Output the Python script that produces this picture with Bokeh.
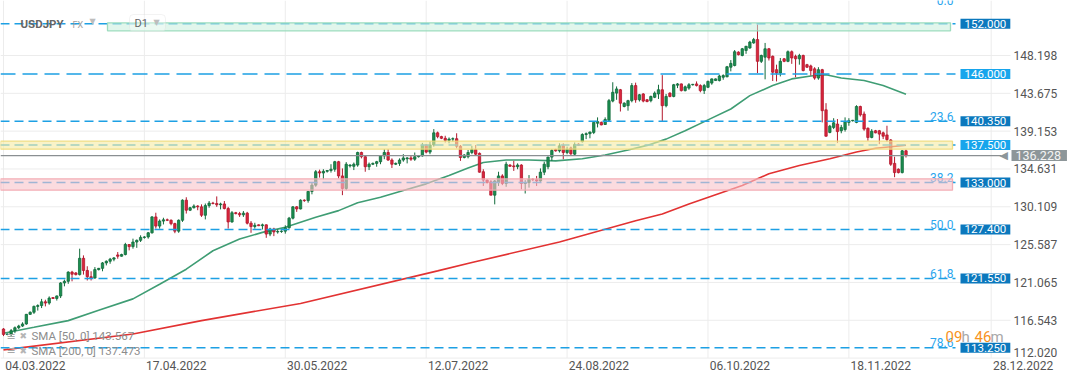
import numpy as np
from bokeh.plotting import figure
from bokeh.models import Range1d, Grid, Label, BoxAnnotation, ColumnDataSource
from bokeh.core.properties import value
from bokeh.embed import file_html
from bokeh.resources import INLINE

# ---------------- data (USDJPY D1, one bar per trading session incl. Sunday) ----------------
open_ = [
 115.5,
 114.85, 114.9, 115.3, 115.65, 115.85, 116.1,
 117.25, 117.5, 118.2, 118.3, 118.75, 118.6,
 119.25, 119.15, 119.45, 121.0, 121.2, 122.3,
 122.2, 122.0, 123.95, 122.5, 121.75, 121.6,
 122.6, 122.75, 123.4, 123.6, 123.85, 124.35,
 124.2, 124.4, 125.6, 125.35, 125.9, 126.1,
 126.45, 126.5, 127.0, 128.9, 127.8, 128.4,
 128.55, 128.5, 128.1, 127.2, 128.5, 130.9,
 129.7, 130.0, 130.2, 130.1, 129.1, 130.25,
 130.55, 130.5, 130.35, 130.45, 129.9, 128.3,
 129.4, 129.3, 129.15, 129.35, 128.15, 127.75,
 127.95, 127.85, 127.95, 126.85, 127.45, 127.1,
 127.15, 127.2, 127.6, 128.75, 130.1, 129.85,
 130.9, 130.85, 131.95, 132.7, 134.3, 134.15,
 134.35, 134.45, 134.6, 135.5, 133.8, 132.3,
 135.0, 134.95, 135.1, 136.6, 136.1, 134.9,
 135.2, 135.3, 135.5, 136.2, 136.6, 135.7,
 135.2, 135.3, 135.7, 135.85, 135.95, 135.8,
 136.1, 136.2, 137.5, 136.65, 137.5, 138.95,
 138.5, 138.3, 138.05, 138.2, 138.25, 137.35,
 136.0, 136.1, 136.6, 136.95, 136.5, 134.3,
 133.3, 133.1, 131.5, 133.0, 133.8, 132.9,
 135.1, 135.0, 134.9, 135.1, 132.9, 133.0,
 133.4, 133.35, 133.2, 134.25, 134.9, 136.05,
 136.95, 136.8, 137.4, 136.6, 137.15, 136.4,
 137.6, 137.9, 138.75, 138.85, 139.0, 140.1,
 140.2, 139.95, 140.45, 142.75, 143.7, 144.1,
 142.1, 142.2, 142.8, 144.6, 142.9, 143.6,
 142.9, 142.8, 143.2, 143.6, 144.1, 142.2,
 143.7, 143.3, 144.65, 144.8, 144.0, 144.3,
 144.7, 144.8, 144.6, 144.0, 144.4, 144.9,
 145.2, 145.2, 145.6, 145.65, 146.8, 147.0,
 148.6, 148.2, 148.8, 149.1, 149.7, 150.1,
 147.5, 148.0, 149.0, 148.1, 146.5, 146.1,
 147.8, 147.5, 148.65, 148.1, 147.8, 148.2,
 147.1, 146.95, 146.6, 145.5, 146.5, 141.7,
 139.0, 139.6, 140.0, 139.2, 139.35, 140.2,
 140.4, 140.2, 142.1, 141.2, 139.5, 138.4,
 139.2, 139.2, 138.95, 138.7, 138.1, 135.3,
 134.6, 134.2, 136.8,
]
high = [
 115.6,
 114.95, 115.5, 115.8, 116.0, 116.3, 117.3,
 117.6, 118.3, 118.45, 119.1, 119.0, 119.4,
 119.3, 119.5, 121.1, 121.4, 122.4, 122.45,
 122.3, 125.1, 124.3, 123.0, 122.4, 122.9,
 122.8, 123.5, 123.7, 124.0, 124.1, 124.7,
 124.5, 125.8, 125.65, 126.3, 126.2, 126.7,
 126.6, 127.1, 129.0, 129.4, 128.6, 128.8,
 128.7, 128.6, 128.2, 128.6, 131.0, 131.25,
 130.1, 130.4, 130.3, 130.4, 130.5, 130.8,
 130.7, 131.35, 130.6, 130.8, 130.1, 129.6,
 129.5, 129.5, 129.6, 129.5, 128.4, 128.2,
 128.0, 128.1, 128.0, 127.6, 127.6, 127.4,
 127.3, 127.9, 128.9, 130.2, 130.2, 131.0,
 131.0, 132.0, 133.0, 134.5, 134.55, 134.6,
 134.5, 135.2, 135.6, 135.6, 134.7, 135.45,
 135.2, 135.4, 136.7, 136.7, 136.3, 135.4,
 135.4, 135.6, 136.3, 137.0, 137.0, 135.9,
 135.4, 135.9, 136.4, 136.05, 136.2, 136.6,
 136.3, 137.75, 137.6, 137.9, 139.4, 139.1,
 138.6, 138.6, 138.4, 138.4, 138.9, 137.5,
 136.4, 136.9, 137.4, 137.5, 136.6, 134.6,
 133.4, 133.3, 133.3, 134.3, 134.0, 135.5,
 135.2, 135.6, 135.3, 135.2, 133.3, 133.9,
 133.5, 133.8, 134.7, 135.5, 136.1, 137.0,
 137.05, 137.7, 137.7, 137.3, 137.3, 137.8,
 137.7, 138.9, 139.0, 139.1, 140.2, 140.8,
 140.3, 140.8, 143.0, 145.0, 144.5, 144.2,
 142.6, 142.9, 144.9, 144.95, 143.6, 143.7,
 143.0, 143.4, 143.9, 144.7, 145.85, 143.6,
 143.8, 144.8, 144.9, 144.85, 144.6, 144.9,
 144.8, 145.1, 144.75, 144.8, 145.2, 145.45,
 145.45, 145.9, 145.95, 146.95, 147.65, 148.85,
 148.7, 149.1, 149.35, 149.95, 150.3, 151.9,
 148.3, 149.7, 149.1, 148.2, 147.1, 147.9,
 147.9, 148.8, 148.8, 148.3, 148.4, 148.3,
 147.2, 147.1, 146.8, 146.8, 146.6, 142.5,
 139.9, 140.7, 140.6, 139.9, 140.8, 140.7,
 140.5, 142.25, 142.2, 141.5, 139.6, 139.4,
 139.3, 139.3, 139.1, 139.8, 138.2, 136.1,
 134.7, 136.9, 136.95,
]
low = [
 114.65,
 114.75, 114.65, 115.0, 115.5, 115.75, 116.0,
 117.2, 117.3, 117.7, 118.0, 118.2, 118.4,
 119.1, 118.9, 119.2, 120.6, 120.9, 121.2,
 121.9, 121.9, 122.0, 121.3, 121.3, 121.5,
 122.5, 122.4, 123.1, 123.3, 123.6, 123.9,
 124.15, 124.3, 124.9, 125.1, 125.2, 125.9,
 126.3, 126.3, 126.9, 127.5, 127.5, 128.0,
 128.4, 127.9, 126.95, 127.0, 128.3, 129.3,
 129.6, 129.9, 129.7, 128.9, 128.6, 130.0,
 130.4, 130.1, 129.8, 129.8, 127.5, 128.2,
 129.2, 128.9, 128.9, 128.0, 127.0, 127.5,
 127.8, 127.4, 126.4, 126.6, 126.6, 126.9,
 127.0, 126.9, 127.5, 128.6, 129.5, 129.8,
 130.7, 130.6, 131.6, 132.5, 133.6, 133.4,
 134.2, 134.2, 134.3, 133.5, 131.5, 132.1,
 134.8, 134.5, 134.9, 135.9, 134.3, 134.5,
 135.1, 134.9, 135.2, 135.8, 135.6, 134.75,
 135.1, 135.0, 135.5, 135.3, 135.6, 135.6,
 136.0, 136.1, 136.5, 136.4, 137.3, 138.3,
 138.2, 137.8, 137.7, 137.9, 137.1, 135.6,
 135.9, 135.9, 136.4, 136.3, 134.2, 132.6,
 132.9, 131.5, 130.4, 132.6, 132.7, 132.5,
 134.9, 134.4, 134.6, 132.2, 131.7, 132.4,
 133.2, 132.6, 133.1, 133.9, 134.6, 135.6,
 136.7, 136.6, 135.8, 136.4, 136.2, 136.2,
 137.4, 137.8, 138.2, 138.3, 138.8, 139.6,
 139.85, 139.9, 140.35, 142.6, 142.9, 141.5,
 142.0, 141.6, 142.6, 142.55, 142.7, 142.6,
 142.6, 142.6, 143.1, 143.0, 140.3, 142.0,
 143.2, 143.2, 144.3, 143.9, 143.9, 144.1,
 144.6, 144.5, 143.8, 143.6, 144.3, 144.7,
 145.15, 145.1, 145.3, 145.6, 146.3, 146.9,
 148.2, 148.1, 148.4, 149.0, 149.6, 146.1,
 147.3, 145.35, 147.6, 145.15, 145.1, 145.7,
 147.4, 147.4, 147.2, 145.6, 147.1, 146.3,
 146.7, 145.8, 145.3, 145.3, 140.2, 138.5,
 138.9, 139.4, 137.75, 138.9, 139.1, 139.8,
 140.3, 140.1, 140.9, 139.2, 138.0, 138.3,
 138.9, 137.6, 138.2, 137.9, 135.0, 133.65,
 134.1, 134.1, 136.0,
]
close = [
 114.85,
 114.9, 115.3, 115.65, 115.85, 116.1, 117.25,
 117.5, 118.2, 118.3, 118.75, 118.6, 119.2,
 119.15, 119.45, 121.0, 121.2, 122.3, 122.05,
 122.0, 123.95, 122.5, 121.75, 121.6, 122.6,
 122.75, 123.4, 123.6, 123.85, 124.0, 124.2,
 124.4, 125.6, 125.35, 125.9, 126.1, 126.45,
 126.5, 127.0, 128.9, 127.8, 128.4, 128.55,
 128.5, 128.1, 127.2, 128.5, 130.9, 129.7,
 130.0, 130.2, 130.1, 129.1, 130.25, 130.55,
 130.5, 130.35, 130.45, 129.9, 128.3, 129.4,
 129.3, 129.15, 129.35, 128.15, 127.75, 127.9,
 127.85, 127.95, 126.85, 127.45, 127.1, 127.15,
 127.2, 127.6, 128.75, 130.1, 129.85, 130.9,
 130.85, 131.95, 132.7, 134.3, 134.15, 134.35,
 134.45, 134.6, 135.5, 133.8, 132.3, 135.2,
 135.1, 135.2, 136.6, 136.1, 134.9, 135.2,
 135.3, 135.5, 136.2, 136.6, 135.7, 135.2,
 135.3, 135.7, 135.95, 135.95, 135.8, 136.1,
 136.2, 137.5, 136.65, 137.5, 138.95, 138.5,
 138.3, 138.05, 138.2, 138.25, 137.35, 136.0,
 136.3, 136.6, 136.95, 136.4, 134.25, 133.3,
 133.0, 131.5, 133.2, 133.8, 132.9, 135.2,
 134.95, 134.9, 135.1, 132.9, 133.0, 133.4,
 133.35, 133.2, 134.25, 135.2, 136.05, 136.85,
 136.8, 137.4, 136.6, 137.0, 136.45, 137.55,
 137.45, 138.75, 138.85, 139.05, 140.2, 140.3,
 139.9, 140.55, 142.8, 143.8, 144.2, 142.5,
 142.5, 142.8, 144.6, 142.9, 143.5, 142.75,
 142.7, 143.3, 143.7, 144.1, 142.2, 143.3,
 143.3, 144.7, 144.8, 144.0, 144.45, 144.7,
 144.75, 144.6, 144.0, 144.6, 145.1, 145.4,
 145.4, 145.75, 145.8, 146.85, 147.25, 148.65,
 148.3, 149.0, 149.3, 149.8, 150.1, 147.5,
 148.2, 149.0, 147.9, 146.2, 146.1, 147.5,
 147.5, 148.65, 147.9, 147.8, 148.2, 146.4,
 146.8, 146.4, 145.5, 146.5, 141.6, 138.55,
 139.75, 140.15, 139.1, 139.6, 140.3, 140.4,
 140.45, 142.1, 141.1, 139.4, 138.4, 139.15,
 138.95, 138.8, 138.55, 138.15, 135.2, 134.2,
 134.2, 136.8, 136.228,
]
assert len(open_) == len(high) == len(low) == len(close)

sma50_bar = [0, 8, 17, 25, 34, 41, 48, 55, 62, 68, 74, 82, 88, 93, 99, 105, 111, 117, 122, 126,
             132, 138, 145, 152, 158, 164, 169, 174, 179, 185, 191, 196, 202, 207, 212, 216,
             220, 226, 231, 237]
sma50_val = [115.0, 115.7, 116.5, 117.75, 119.1, 120.85, 122.65, 124.85, 126.25, 127.05, 127.65,
             128.85, 129.65, 130.6, 131.25, 132.05, 132.85, 133.85, 134.75, 135.4, 135.7, 135.7,
             135.6, 135.85, 136.3, 136.9, 137.45, 138.2, 139.2, 140.5, 141.8, 143.4, 144.6,
             145.4, 145.75, 145.9, 145.5, 145.2, 144.6, 143.567]
sma200_bar = [0, 34, 52, 78, 114, 123, 146, 166, 173, 180, 194, 201, 209, 217, 224, 229, 237]
sma200_val = [113.0, 114.9, 116.5, 118.55, 122.45, 123.45, 125.9, 128.45, 129.25, 130.45, 132.65,
              134.05, 135.05, 135.85, 136.65, 137.1, 137.473]

y_ticks = [112.020, 116.543, 121.065, 125.587, 130.109, 134.631, 139.153, 143.675, 148.198]
date_labels = ["04.03.2022", "17.04.2022", "30.05.2022", "12.07.2022",
               "24.08.2022", "06.10.2022", "18.11.2022", "28.12.2022"]
date_bars = [0, 37, 74, 111, 148, 185, 222, 259.37]

levels = [152.000, 146.000, 140.350, 137.500, 133.000, 127.400, 121.550, 113.250]
level_dark = [True, False, True, False, True, True, True, True]
fib_text = ["23.6", "38.2", "50.0", "61.8", "78.6"]
fib_levels = [140.350, 133.000, 127.400, 121.550, 113.250]
band_yellow = (137.0, 137.95)
band_pink = (132.1, 133.45)
band_green = (151.15, 152.1)
last_price = 136.228
sma50_last = 143.567
sma200_last = 137.473

# ---------------- pixel <-> data helpers (layout only) ----------------
BAR_PX, X0_PX = 3.808, 3.0
PX_PER_UNIT, Y_REF, Y_REF_PX = 8.364, 148.198, 55.0


def bx(px):
    return (px - X0_PX) / BAR_PX


def py(pyy):
    return Y_REF - (pyy - Y_REF_PX) / PX_PER_UNIT


FONT = "Roboto"
W, H = 1068, 378

p = figure(width=W, height=H,
           x_range=Range1d(bx(0), bx(W)), y_range=Range1d(py(H), py(0)),
           output_backend="svg", toolbar_location=None,
           x_axis_location=None, y_axis_location=None,
           min_border=0, min_border_left=0, min_border_right=0, min_border_top=0, min_border_bottom=0,
           outline_line_color=None, background_fill_color="white", border_fill_color="white")
p.center = [r for r in p.center if not isinstance(r, Grid)]

# grid lines (price ticks end at the price-scale, date ticks end at the time-scale)
GRID = "#ececec"
p.segment(x0=bx(0), x1=bx(1010), y0=y_ticks, y1=y_ticks, line_color=GRID, line_width=1)
p.segment(x0=date_bars, x1=date_bars, y0=py(357.5), y1=py(0), line_color=GRID, line_width=1)

# price scale labels
p.text(x=bx(1013), y=y_ticks[1:], text=[f"{v:.3f}" for v in y_ticks[1:]], text_align="left",
       text_baseline="middle", text_font=value(FONT), text_font_size="12px", text_color="#555555")
p.text(x=bx(1013), y=y_ticks[:1], text=[f"{v:.3f}" for v in y_ticks[:1]], text_align="left",
       text_baseline="middle", y_offset=-6, text_font=value(FONT), text_font_size="12px",
       text_color="#555555")

# time scale labels
p.text(x=[b + 0.45 for b in date_bars], y=py(364.5), text=date_labels, text_align="left",
       text_baseline="middle", text_font=value(FONT), text_font_size="12px", text_color="#555555")

# SMA lines
p.line(sma50_bar, sma50_val, line_color="#3f9d74", line_width=1.6)
p.line(sma200_bar, sma200_val, line_color="#e23232", line_width=1.6)

# candles
o = np.array(open_); h = np.array(high); l = np.array(low); c = np.array(close)
idx = np.arange(len(c))
up = c >= o
src = ColumnDataSource(dict(
    x=idx, top=np.maximum(o, c), bottom=np.minimum(o, c),
    hi=np.maximum(h, np.maximum(o, c)), lo=np.minimum(l, np.minimum(o, c)),
    fill=np.where(up, "#1b8e50", "#d9263d"),
    line=np.where(up, "#116b3b", "#b3172c"),
))
p.segment(x0="x", y0="lo", x1="x", y1="hi", line_color="line", line_width=1, source=src)
p.vbar(x="x", width=0.62, top="top", bottom="bottom", fill_color="fill",
       line_color="line", line_width=0.8, source=src)

# horizontal levels
x_l0, x_l1 = bx(0), bx(955)
for lv in levels:
    dash = "15 7" if lv == 146.0 else "9 5"
    p.line([x_l0, x_l1], [lv, lv], line_color="#1da0e4", line_width=1.5, line_dash=dash)

# current price line
p.line([x_l0, bx(1001)], [last_price, last_price], line_color="#8a8f92", line_width=1.4)

# bands (over candles)
p.add_layout(BoxAnnotation(left=bx(0), right=bx(952), bottom=band_yellow[0], top=band_yellow[1],
                           fill_color="#f6eba6", fill_alpha=0.62, line_color="#f0da7a",
                           line_width=1.3, line_alpha=0.9))
p.add_layout(BoxAnnotation(left=bx(0), right=bx(952), bottom=band_pink[0], top=band_pink[1],
                           fill_color="#f8c3c9", fill_alpha=0.6, line_color="#f2a9b0",
                           line_width=1.3, line_alpha=0.9))
p.add_layout(BoxAnnotation(left=bx(107), right=bx(950), bottom=band_green[0], top=band_green[1],
                           fill_color="#c9eedd", fill_alpha=0.55, line_color="#93d8b8",
                           line_width=1.3, line_alpha=0.9))

# fibonacci labels
p.text(x=[bx(953)] * len(fib_text), y=fib_levels, text=fib_text, text_align="right",
       text_baseline="alphabetic", y_offset=-5, text_font=value(FONT),
       text_font_size="12px", text_color="#2ba6ee")
p.text(x=[bx(953)], y=[py(0)], text=["0.0"], text_align="right", text_baseline="middle",
       text_font=value(FONT), text_font_size="12px", text_color="#2ba6ee")

# price tags
for lv, dark in zip(levels, level_dark):
    p.add_layout(Label(x=bx(960), y=lv, text=f"{lv:.3f}", text_align="left", text_baseline="middle",
                       text_font=FONT, text_font_size="11.5px", text_color="white",
                       background_fill_color="#0b78bd" if dark else "#17a5ec",
                       padding=dict(left=4, right=4, top=1, bottom=1)))
p.add_layout(Label(x=bx(999), y=last_price, text="\u25C0", text_align="left", text_baseline="middle",
                   text_font="DejaVu Sans", text_font_size="11px", text_color="#8d9699"))
p.add_layout(Label(x=bx(1011), y=last_price, text=f"{last_price:.3f}", text_align="left",
                   text_baseline="middle", text_font=FONT, text_font_size="12.5px",
                   text_color="#f4f4f4", background_fill_color="#8d9699",
                   padding=dict(left=4, right=6, top=1, bottom=1)))

# header
p.add_layout(Label(x=bx(20), y=py(23), text="USDJPY", text_align="left", text_baseline="middle",
                   text_font=FONT, text_font_size="11.5px", text_font_style="bold",
                   text_color="#666666"))
p.add_layout(Label(x=bx(72), y=py(24), text="FX", text_align="left", text_baseline="middle",
                   text_font=FONT, text_font_size="9px", text_color="#9e9e9e"))
p.add_layout(Label(x=bx(89), y=py(21), text="\u25BC", text_align="left", text_baseline="middle",
                   text_font="DejaVu Sans", text_font_size="8px", text_color="#bdbdbd"))
p.add_layout(BoxAnnotation(left=bx(129), right=bx(165), top=py(14), bottom=py(31),
                           fill_color="white", fill_alpha=0.35, line_color="#d8d8d8",
                           line_width=1, border_radius=4))
p.add_layout(Label(x=bx(134), y=py(23), text="D1", text_align="left", text_baseline="middle",
                   text_font=FONT, text_font_size="11px", text_color="#666666"))
p.add_layout(Label(x=bx(153), y=py(22), text="\u25BC", text_align="left", text_baseline="middle",
                   text_font="DejaVu Sans", text_font_size="8px", text_color="#bdbdbd"))

# indicator legend
for yy, txt in [(335.5, f"SMA [50, 0] {sma50_last:.3f}"), (350, f"SMA [200, 0] {sma200_last:.3f}")]:
    p.add_layout(Label(x=bx(6), y=py(yy), text="\u2261", text_align="left", text_baseline="middle",
                       text_font="DejaVu Sans", text_font_size="11px", text_color="#a8a8a8"))
    p.add_layout(Label(x=bx(19), y=py(yy), text="\u2716", text_align="left", text_baseline="middle",
                       text_font="DejaVu Sans", text_font_size="9px", text_color="#b5b5b5"))
    p.add_layout(Label(x=bx(31), y=py(yy), text=txt, text_align="left", text_baseline="middle",
                       text_font=FONT, text_font_size="11.5px", text_color="#8c8c8c"))

# candle countdown
for xpx, txt, col in [(945, "09", "#f7931e"), (961, "h", "#a8a8a8"),
                      (974, "46", "#f7931e"), (990, "m", "#a8a8a8")]:
    p.add_layout(Label(x=bx(xpx), y=py(336), text=txt, text_align="left", text_baseline="middle",
                       text_font=FONT, text_font_size="15px", text_color=col))

open("out.html", "w").write(file_html(p, INLINE))
